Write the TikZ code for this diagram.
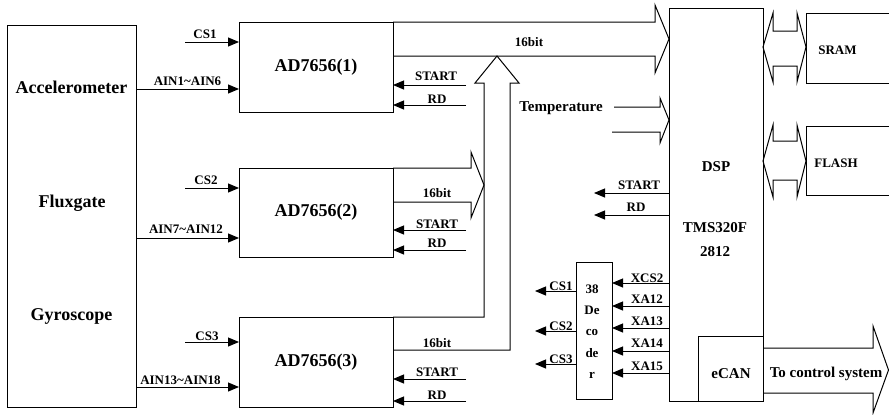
\documentclass[tikz,border=0pt]{standalone}
\usepackage{fontspec}
\setmainfont{Liberation Serif}
\usetikzlibrary{arrows.meta,calc}
\tikzset{
 box/.style={draw, line width=1pt, inner sep=0pt, outer sep=0pt, anchor=north west},
 sm/.style={font=\bfseries\fontsize{13}{13}\selectfont, inner sep=0pt, anchor=base},
 md/.style={font=\bfseries\fontsize{15}{15}\selectfont, inner sep=0pt, anchor=base},
 lg/.style={font=\bfseries\fontsize{18}{18}\selectfont, inner sep=0pt, anchor=base},
 sig/.style={line width=1pt, -{Triangle[length=11pt,width=9pt]}},
 bus/.style={line width=1pt, line join=miter},
}
\begin{document}
\begin{tikzpicture}[x=1pt,y=-1pt]
\useasboundingbox (0,0) rectangle (889,415);
% sensors
\node[box, minimum width=129pt, minimum height=382pt] (sens) at (7,25) {};
\node[lg] (acc) at (71.5,93) {Accelerometer};
\node[lg] (flux) at (72,207) {Fluxgate};
\node[lg] (gyro) at (71.5,320) {Gyroscope};
% ADCs
\node[box, minimum width=154pt, minimum height=90pt, font=\bfseries\fontsize{18}{18}\selectfont] (ad1) at (239,22) {AD7656(1)};
\node[box, minimum width=154pt, minimum height=89pt, font=\bfseries\fontsize{18}{18}\selectfont] (ad2) at (239,168) {AD7656(2)};
\node[box, minimum width=154pt, minimum height=90pt, font=\bfseries\fontsize{18}{18}\selectfont] (ad3) at (239,317) {AD7656(3)};
% DSP
\node[box, minimum width=94pt, minimum height=393pt] (dsp) at (669,8) {};
\node[md] (dsplbl) at (716,171) {DSP};
\node[md] (tms) at (715,232) {TMS320F};
\node[md] (tms2) at (715,256) {2812};
\node[box, minimum width=65pt, minimum height=65pt] (ecan) at (698,336) {};
\node[md] (ecanlbl) at (731,378) {eCAN};
% decoder
\node[box, minimum width=36pt, minimum height=137pt] (dec) at (576,262) {};
\node[sm] (d1) at (592,293) {38};
\node[sm] (d2) at (592,314) {De};
\node[sm] (d3) at (592,335) {co};
\node[sm] (d4) at (592,357) {de};
\node[sm] (d5) at (592,378) {r};
% memories
\node[box, draw=none, minimum width=83pt, minimum height=70pt] (sram) at (806,13) {};
\draw[line width=1pt] (sram.north east) -- (sram.north west) -- (sram.south west) -- (sram.south east);
\node[sm] (sramlbl) at (837.5,54) {SRAM};
\node[box, draw=none, minimum width=83pt, minimum height=69pt] (flash) at (806,126) {};
\draw[line width=1pt] (flash.north east) -- (flash.north west) -- (flash.south west) -- (flash.south east);
\node[sm] (flashlbl) at (836,167) {FLASH};
% CS / AIN inputs
\coordinate (cs1s) at (185,42);
\coordinate (cs2s) at (185,188);
\coordinate (cs3s) at (185,342);
\draw[sig] (cs1s) -- (cs1s -| ad1.west);
\draw[sig] (cs2s) -- (cs2s -| ad2.west);
\draw[sig] (cs3s) -- (cs3s -| ad3.west);
\node[sm] (lcs1) at (205,38) {CS1};
\node[sm] (lcs2) at (206,184) {CS2};
\node[sm] (lcs3) at (207,340) {CS3};
\coordinate (ain1) at (sens.east |- 0,89);
\coordinate (ain2) at (sens.east |- 0,238);
\coordinate (ain3) at (sens.east |- 0,387);
\draw[sig] (ain1) -- (ain1 -| ad1.west);
\draw[sig] (ain2) -- (ain2 -| ad2.west);
\draw[sig] (ain3) -- (ain3 -| ad3.west);
\node[sm] (lain1) at (187.5,85) {AIN1\textasciitilde AIN6};
\node[sm] (lain2) at (186,233) {AIN7\textasciitilde AIN12};
\node[sm] (lain3) at (180.5,384) {AIN13\textasciitilde AIN18};
% START / RD to ADCs
\coordinate (st1) at (466,85);
\coordinate (rd1) at (466,105);
\coordinate (st2) at (466,230);
\coordinate (rd2) at (466,250);
\coordinate (st3) at (466,379);
\coordinate (rd3) at (466,401);
\draw[sig] (st1) -- (st1 -| ad1.east);
\draw[sig] (rd1) -- (rd1 -| ad1.east);
\draw[sig] (st2) -- (st2 -| ad2.east);
\draw[sig] (rd2) -- (rd2 -| ad2.east);
\draw[sig] (st3) -- (st3 -| ad3.east);
\draw[sig] (rd3) -- (rd3 -| ad3.east);
\node[sm] (lst1) at (436,80.5) {START};
\node[sm] (lrd1) at (437,103) {RD};
\node[sm] (lst2) at (437,228) {START};
\node[sm] (lrd2) at (437,247) {RD};
\node[sm] (lst3) at (437,376) {START};
\node[sm] (lrd3) at (437,399) {RD};
% data buses
\draw[bus] (ad1.north east) -- (655,22) -- (655,5) -- (dsp.west |- 0,39) -- (655,73) -- (655,56) -- (ad1.east |- 0,56);
\node[sm] (b1) at (529,46) {16bit};
\draw[bus] (ad2.north east) -- (471,168) -- (471,152) -- (484,185) -- (471,218) -- (471,202) -- (ad2.east |- 0,202);
\node[sm] (b2) at (437,197) {16bit};
\draw[bus] (ad3.north east) -- (484,317) -- (484,83) -- (475,83) -- (497,56) -- (519,83) -- (510,83) -- (510,350) -- (ad3.east |- 0,350);
\node[sm] (b3) at (437,347) {16bit};
% temperature
\draw[bus] (614,107) -- (660,107) -- (660,98) -- (dsp.west |- 0,120) -- (660,143) -- (660,132) -- (612,132);
\node[md] (temp) at (561,111) {Temperature};
% memory buses
\draw[bus] (dsp.east |- 0,47) -- (773,13) -- (773,31) -- (797,31) -- (797,13) -- (sram.west |- 0,47) -- (797,82) -- (797,66) -- (773,66) -- (773,82) -- cycle;
\draw[bus] (dsp.east |- 0,161) -- (773,125) -- (773,141) -- (797,141) -- (797,125) -- (flash.west |- 0,161) -- (797,197) -- (797,180) -- (773,180) -- (773,197) -- cycle;
% DSP START / RD
\coordinate (dst) at (594,193);
\coordinate (drd) at (594,215);
\draw[sig] (dst -| dsp.west) -- (dst);
\draw[sig] (drd -| dsp.west) -- (drd);
\node[sm] (ldst) at (639,189) {START};
\node[sm] (ldrd) at (636,211) {RD};
% address lines to decoder
\foreach \yy/\tt/\bb in {283/XCS2/282, 306/XA12/303, 328/XA13/325, 351/XA14/347, 373/XA15/370}{
  \draw[sig] (dsp.west |- 0,\yy) -- (dec.east |- 0,\yy);
  \node[sm] at (647,\bb) {\tt};
}
% decoder outputs
\foreach \yy/\tt/\bb in {291/CS1/290, 331/CS2/330, 364/CS3/363}{
  \draw[sig] (dec.west |- 0,\yy) -- (535,\yy);
  \node[sm] at (561,\bb) {\tt};
}
% to control system
\draw[bus] (ecan.east |- 0,348) -- (873,348) -- (873,326) -- (888.5,370) -- (873,413) -- (873,393) -- (ecan.east |- 0,393);
\node[md] (ctrl) at (826,377) {To control system};
\end{tikzpicture}
\end{document}
